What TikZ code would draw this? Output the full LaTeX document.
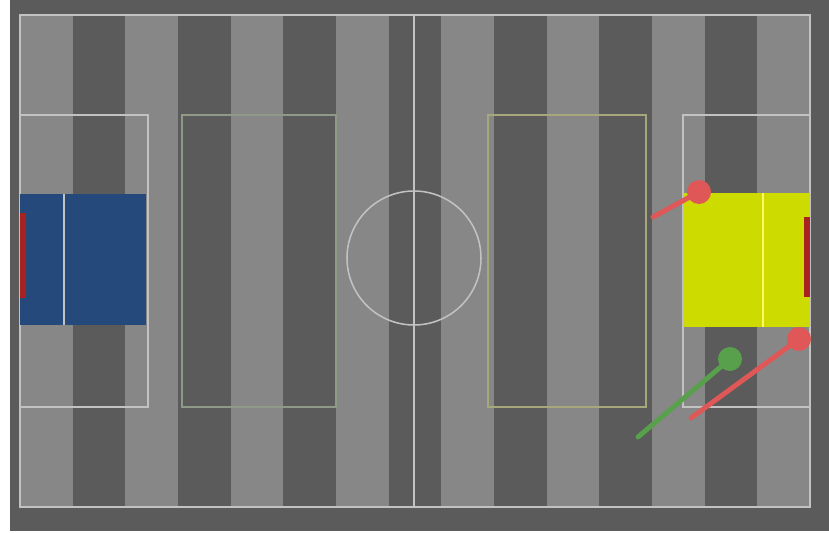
\documentclass[tikz,border=0pt]{standalone}
\usepackage{tikz}
\usetikzlibrary{calc}
\usepackage{xcolor}
\definecolor{pdark}{HTML}{5B5B5B}
\definecolor{plight}{HTML}{878787}
\definecolor{pline}{HTML}{C2C2C2}
\definecolor{pgreenline}{HTML}{8E9A86}
\definecolor{pyelline}{HTML}{A6A77A}
\definecolor{pblue}{HTML}{24497A}
\definecolor{pyellow}{HTML}{CDDB00}
\definecolor{pgoal}{HTML}{A92222}
\definecolor{pred}{HTML}{E05757}
\definecolor{pgreen}{HTML}{58A04B}

\begin{document}
\begin{tikzpicture}[x=0.03cm, y=-0.03cm,
  fieldline/.style={draw=pline, line width=1.3pt},
  marker/.style={line width=4.2pt, line cap=round}]
\def\W{52.667}\def\R{12}
\useasboundingbox (0,0) rectangle (829,533);
\fill[pdark] (10,0) rectangle (829,531);
% ================= stripes =================
\foreach \i in {0,2,...,14}{\fill[plight] ({20+\i*\W},15) rectangle ({20+(\i+1)*\W},507);}
% ================= pitch markings =================
\draw[fieldline] (20,15) rectangle (810,507);
\draw[fieldline] (414,15) -- (414,507);
\draw[fieldline] (414,258) circle (67);
% left half
\draw[fieldline] (20,115) -- (148,115) -- (148,407) -- (20,407);
\draw[draw=pgreenline, line width=1pt] (182,115) rectangle (336,407);
% right half
\draw[fieldline] (810,115) -- (683,115) -- (683,407) -- (810,407);
\draw[draw=pyelline, line width=1pt] (488,115) rectangle (646,407);
% ================= goal boxes =================
\fill[pblue] (20,194) rectangle (146,325);
\draw[draw=pline, line width=1pt] (64,194) -- (64,325);
\fill[pgoal] (20,213) rectangle (26,298);
\fill[pyellow] (683,193) rectangle (810,327);
\draw[draw=yellow!60!white, line width=1pt] (763,193) -- (763,327);
\fill[pgoal] (804,217) rectangle (810,297);
% ================= players =================
\draw[marker, pred] (653,217) -- (699,192);
\fill[pred] (699,192) circle (\R);
\draw[marker, pgreen] (638,437) -- (730,359);
\fill[pgreen] (730,359) circle (\R);
\draw[marker, pred] (691,418) -- (799,339);
\fill[pred] (799,339) circle (\R);
\end{tikzpicture}
\end{document}
